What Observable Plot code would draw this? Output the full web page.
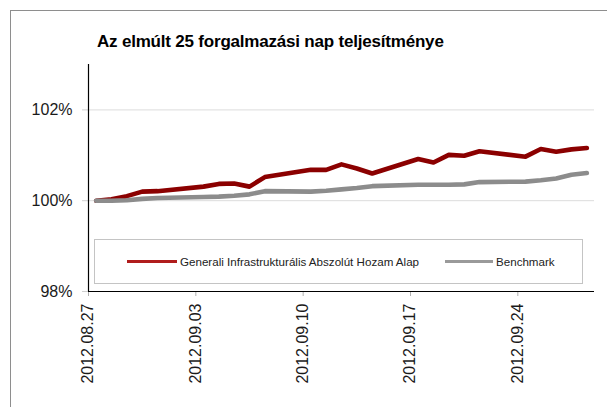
<!DOCTYPE html>
<html>
<head>
<meta charset="utf-8">
<script src="https://cdn.jsdelivr.net/npm/d3@7"></script>
<script src="https://cdn.jsdelivr.net/npm/@observablehq/plot@0.6"></script>
<style>
  html, body { margin: 0; padding: 0; background: #fff; }
  body { font-family: "Liberation Sans", Arial, Helvetica, sans-serif; }
  #wrap { position: relative; width: 607px; height: 407px; overflow: hidden; }
  #border { position: absolute; left: 10px; top: 10px; width: 620px; height: 420px;
            border-top: 1px solid #8e8e8e; border-left: 1px solid #8e8e8e; }
  #title { position: absolute; left: 97px; top: 33px; font-size: 17px; line-height: 17px;
           font-weight: bold; letter-spacing: -0.2px; color: #000; white-space: nowrap; }
  #chart { position: absolute; left: 0; top: 0; }
  #legend { position: absolute; left: 94px; top: 239px; width: 489px; height: 45px;
            border: 1px solid #c4c4c4; background: #fff; box-sizing: border-box; }
  .item { position: absolute; top: 15px; font-size: 11.6px; color: #222; white-space: nowrap; line-height: 14px; }
  .sw { display: inline-block; width: 50px; height: 3px; vertical-align: middle; margin-right: 3px; position: relative; top: -1px; }
</style>
</head>
<body>
<div id="wrap">
  <div id="border"></div>
  <div id="chart"></div>
  <div id="title"></div>
  <div id="legend"></div>
</div>
<script>
// ---- data ----
const titleText = "Az elmúlt 25 forgalmazási nap teljesítménye";
const seriesNames = ["Generali Infrastrukturális Abszolút Hozam Alap", "Benchmark"];
const seriesColors = ["#8b0000", "#8c8c8c"];
const legendColors = ["#b01c1c", "#9a9a9a"];
const dates = [
  "2012-08-27","2012-08-28","2012-08-29","2012-08-30","2012-08-31",
  "2012-09-03","2012-09-04","2012-09-05","2012-09-06","2012-09-07",
  "2012-09-10","2012-09-11","2012-09-12","2012-09-13","2012-09-14",
  "2012-09-17","2012-09-18","2012-09-19","2012-09-20","2012-09-21",
  "2012-09-24","2012-09-25","2012-09-26","2012-09-27","2012-09-28"
];
const fundValues = [
  100.00, 100.03, 100.10, 100.20, 100.21,
  100.31, 100.37, 100.38, 100.31, 100.52,
  100.68, 100.68, 100.80, 100.71, 100.60,
  100.92, 100.84, 101.01, 100.99, 101.09,
  100.97, 101.14, 101.08, 101.13, 101.16
];
const benchValues = [
  100.00, 100.00, 100.01, 100.04, 100.06,
  100.08, 100.09, 100.11, 100.14, 100.21,
  100.20, 100.22, 100.25, 100.28, 100.32,
  100.35, 100.35, 100.35, 100.36, 100.41,
  100.42, 100.45, 100.49, 100.57, 100.61
];
const xTickLabels = ["2012.08.27","2012.09.03","2012.09.10","2012.09.17","2012.09.24"];
const xDomain = ["2012-08-27","2012-09-29"];
const yTicks = [98, 100, 102];
const yDomain = [98, 103];

// ---- build ----
const parse = s => new Date(s + "T00:00:00Z");
const noon = d => new Date(d.getTime() + 12 * 3600 * 1000);
const rows = [];
dates.forEach((d, i) => {
  rows.push({date: noon(parse(d)), value: fundValues[i], series: seriesNames[0]});
});
dates.forEach((d, i) => {
  rows.push({date: noon(parse(d)), value: benchValues[i], series: seriesNames[1]});
});
const tickDates = xTickLabels.map(s => parse(s.replace(/\./g, "-")));
const labelRows = xTickLabels.map((s, i) => ({date: noon(tickDates[i]), label: s}));

const chart = Plot.plot({
  width: 607,
  height: 407,
  marginTop: 64,
  marginBottom: 116,
  marginLeft: 88,
  marginRight: 13,
  style: {fontFamily: '"Liberation Sans", Arial, Helvetica, sans-serif', fontSize: "16px", color: "#1a1a1a", background: "transparent"},
  x: {type: "utc", domain: xDomain.map(parse), label: null},
  y: {domain: yDomain, label: null},
  color: {domain: seriesNames, range: seriesColors},
  marks: [
    Plot.ruleY(yTicks.slice(1), {stroke: "#dcdcdc", strokeWidth: 1}),
    Plot.axisY(yTicks, {tickSize: 6, tickPadding: 10, stroke: "#cfcfcf", tickFormat: d => d + "%", fontSize: 16, label: null}),
    Plot.axisX(tickDates, {tickSize: 5, tickFormat: () => "", stroke: "#b0b0b0", label: null}),
    Plot.text(labelRows, {x: "date", text: "label", frameAnchor: "bottom", rotate: -90, textAnchor: "end", dy: 12, dx: -3, fontSize: 16, fill: "#1a1a1a"}),
    Plot.line(rows.filter(r => r.series === seriesNames[0]), {x: "date", y: "value", stroke: "series", strokeWidth: 4.6, strokeLinejoin: "round", strokeLinecap: "round"}),
    Plot.line(rows.filter(r => r.series === seriesNames[1]), {x: "date", y: "value", stroke: "series", strokeWidth: 4.6, strokeLinejoin: "round", strokeLinecap: "round"}),
    Plot.ruleX([parse(xDomain[0])], {stroke: "#000", strokeWidth: 1.2}),
    Plot.ruleY([yDomain[0]], {stroke: "#000", strokeWidth: 1.2})
  ]
});
document.getElementById("chart").appendChild(chart);
document.getElementById("title").textContent = titleText;

// legend
const legend = document.getElementById("legend");
const positions = [32, 350];
seriesNames.forEach((name, i) => {
  const it = document.createElement("div");
  it.className = "item";
  it.style.left = positions[i] + "px";
  const sw = document.createElement("span");
  sw.className = "sw";
  sw.style.background = legendColors[i];
  if (i === 1) sw.style.width = "48px";
  it.appendChild(sw);
  it.appendChild(document.createTextNode(name));
  legend.appendChild(it);
});
</script>
</body>
</html>
